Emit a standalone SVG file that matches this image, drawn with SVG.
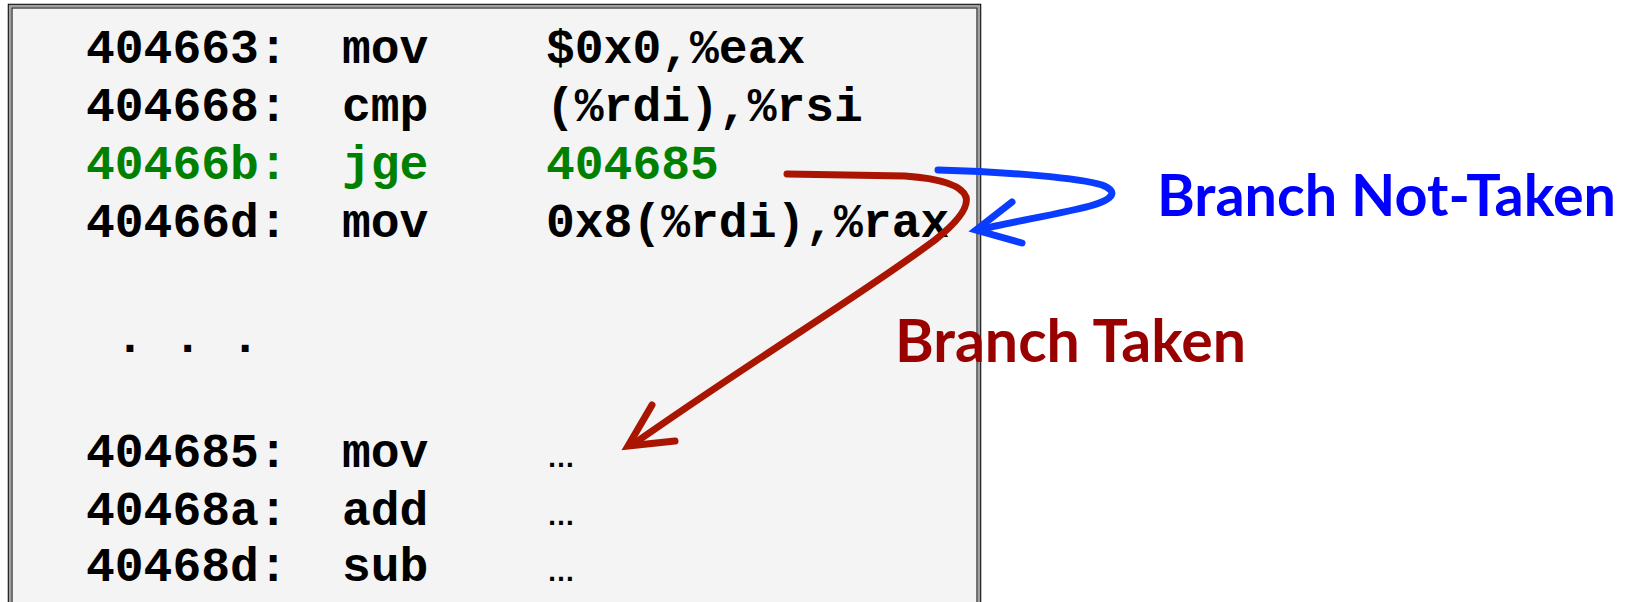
<svg xmlns="http://www.w3.org/2000/svg" width="1628" height="602" viewBox="0 0 1628 602">
  <style>
    .code { font-family: "Liberation Mono", "Courier New", monospace; font-weight: bold; font-size: 48px; fill: #000; }
    .jump { fill: #008000; }
    .ell { font-family: "Liberation Sans", Arial, sans-serif; font-weight: bold; font-size: 28px; fill: #000; }
    .label { font-family: Lato, "Open Sans", sans-serif; font-weight: bold; }
    .taken { fill: none; stroke: #a91500; stroke-width: 7; stroke-linecap: round; }
    .nottaken { fill: none; stroke: #0a3cff; stroke-width: 7; stroke-linecap: round; }
  </style>

  <rect width="1628" height="602" fill="#fff"/>

  <!-- listing panel with a double frame -->
  <g id="listing">
    <rect x="8.5" y="4.5" width="972" height="620" fill="#f4f4f4" stroke="#000" stroke-width="1.5"/>
    <rect x="10" y="6" width="969" height="620" fill="none" stroke="#a0a0a0" stroke-width="2.5"/>
    <rect x="12" y="8" width="965" height="620" fill="none" stroke="#202020" stroke-width="1.2"/>

    <text class="code" x="86" y="63">404663:</text>
    <text class="code" x="342" y="63">mov</text>
    <text class="code" x="546" y="63">$0x0,%eax</text>

    <text class="code" x="86" y="121">404668:</text>
    <text class="code" x="342" y="121">cmp</text>
    <text class="code" x="546" y="121">(%rdi),%rsi</text>

    <text class="code jump" x="86" y="179">40466b:</text>
    <text class="code jump" x="342" y="179">jge</text>
    <text class="code jump" x="546" y="179">404685</text>

    <text class="code" x="86" y="237">40466d:</text>
    <text class="code" x="342" y="237">mov</text>
    <text class="code" x="546" y="237">0x8(%rdi),%rax</text>

    <text class="code" x="115.6" y="352">. . .</text>

    <text class="code" x="86" y="467">404685:</text>
    <text class="code" x="342" y="467">mov</text>
    <text class="ell" x="547" y="467">…</text>

    <text class="code" x="86" y="525">40468a:</text>
    <text class="code" x="342" y="525">add</text>
    <text class="ell" x="547" y="525">…</text>

    <text class="code" x="86" y="581">40468d:</text>
    <text class="code" x="342" y="581">sub</text>
    <text class="ell" x="547" y="581">…</text>
  </g>

  <!-- hand-drawn branch arrows -->
  <g id="connectors">
    <path class="taken" d="M787,174 L905,176 Q960,180 966,197 Q970,212 935,240 C860,296 760,355 632,445"/>
    <path class="taken" stroke-linejoin="miter" d="M652,405 L628,446 L675,441"/>
    <path class="nottaken" d="M938,170 C1010,172 1080,178 1102,185 C1118,191 1115,199 1090,206 C1060,214 1010,222 978,230"/>
    <path class="nottaken" stroke-linejoin="miter" d="M1012,202 L976,230 L1022,243"/>
  </g>

  <g id="label-not-taken">
    <text class="label" x="1157" y="216" font-size="57.5" fill="#0000ff">Branch Not-Taken</text>
  </g>
  <g id="label-taken">
    <text class="label" x="895" y="362" font-size="59" fill="#990000">Branch Taken</text>
  </g>
</svg>
